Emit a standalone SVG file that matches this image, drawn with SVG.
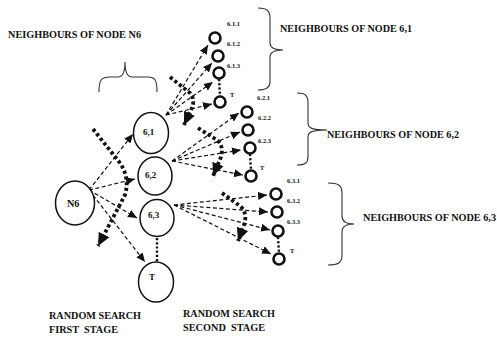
<svg xmlns="http://www.w3.org/2000/svg" width="497" height="337" viewBox="0 0 497 337">
<style>
text{font-family:"Liberation Serif","Times New Roman","DejaVu Serif",serif;font-weight:bold;fill:#111}
.big{font-size:10.2px}
.nl{font-size:9px}
.sl{font-size:6.5px}
.bn{fill:#fff;stroke:#111;stroke-width:1.5}
.sn{fill:#fff;stroke:#111;stroke-width:2.6}
.da{fill:none;stroke:#111;stroke-width:1.2;stroke-dasharray:4 2.5;marker-end:url(#ah)}
.th{fill:none;stroke:#111;stroke-width:3.8;stroke-dasharray:3.2 2.6;marker-end:url(#bh)}
.vd{fill:none;stroke:#111;stroke-width:2.4;stroke-dasharray:2.2 2}
.br{fill:none;stroke:#333;stroke-width:1.1}
</style>
<defs>
<marker id="ah" markerUnits="userSpaceOnUse" markerWidth="10" markerHeight="10" viewBox="0 0 10 10" refX="9" refY="5" orient="auto"><path d="M0,1 L9,5 L0,9 Z" fill="#111"/></marker>
<marker id="bh" markerUnits="userSpaceOnUse" markerWidth="15" markerHeight="15" viewBox="0 0 15 15" refX="13" refY="7.5" orient="auto"><path d="M0,1.5 L13,7.5 L0,13.5 Z" fill="#111"/></marker>
</defs>
<rect width="497" height="337" fill="#fff"/>

<g id="connectors">
<path class="da" d="M89,190 L133,134"/>
<path class="da" d="M89,190 L135,179"/>
<path class="da" d="M89,190 L137,218"/>
<path class="da" d="M89,190 L145,262"/>
<path class="da" d="M166,115 L208,45"/>
<path class="da" d="M166,115 L212,63"/>
<path class="da" d="M166,115 L213,82"/>
<path class="da" d="M166,115 L212,104"/>
<path class="da" d="M172,161 L239,113"/>
<path class="da" d="M172,161 L240,132"/>
<path class="da" d="M172,161 L241,150"/>
<path class="da" d="M172,161 L243,175"/>
<path class="da" d="M174,205 L267,195"/>
<path class="da" d="M174,205 L268,212"/>
<path class="da" d="M174,205 L270,230"/>
<path class="da" d="M174,205 L271,254"/>
<path class="vd" d="M157,238 L157,262"/>
<path class="vd" d="M219,79 L220,96"/>
<path class="vd" d="M250,154 L251,170"/>
<path class="vd" d="M278,237 L279,253"/>
<path class="th" d="M93,129 L120,163 Q130,178 125,195 L98,246"/>
<path class="th" d="M170,77 L190,93 Q196,100 191,110 L184,125"/>
<path class="th" d="M198,128 L217,140 Q224,146 221,157 L213,176"/>
<path class="th" d="M222,193 L240,206 Q248,213 244,225 L238,241"/>
</g>

<g id="N6"><ellipse class="bn" cx="75" cy="203" rx="19.5" ry="22"/><text class="big" x="67" y="207">N6</text></g>
<g id="n61"><ellipse class="bn" cx="151" cy="133" rx="17.5" ry="20.5"/><text class="nl" x="143" y="135">6,1</text></g>
<g id="n62"><ellipse class="bn" cx="155" cy="176" rx="17" ry="19"/><text class="nl" x="145" y="178">6,2</text></g>
<g id="n63"><ellipse class="bn" cx="157" cy="218" rx="17" ry="18.5"/><text class="nl" x="148" y="218">6,3</text></g>
<g id="nT"><ellipse class="bn" cx="156" cy="282" rx="17.5" ry="20"/><text class="nl" x="149" y="280">T</text></g>

<g id="n611"><circle class="sn" cx="215" cy="38" r="5.5"/><text class="sl" x="227" y="26">6.1.1</text></g>
<g id="n612"><circle class="sn" cx="218" cy="56" r="5.5"/><text class="sl" x="227" y="46">6.1.2</text></g>
<g id="n613"><circle class="sn" cx="219" cy="73" r="5.5"/><text class="sl" x="227" y="68">6.1.3</text></g>
<g id="n61T"><circle class="sn" cx="220" cy="102" r="5.5"/><text class="sl" x="230" y="97">T</text></g>
<g id="n621"><circle class="sn" cx="247" cy="112" r="5.5"/><text class="sl" x="257" y="100">6.2.1</text></g>
<g id="n622"><circle class="sn" cx="248" cy="130" r="5.5"/><text class="sl" x="258" y="120">6.2.2</text></g>
<g id="n623"><circle class="sn" cx="250" cy="148" r="5.5"/><text class="sl" x="258" y="143">6.2.3</text></g>
<g id="n62T"><circle class="sn" cx="251" cy="176" r="5.5"/><text class="sl" x="260" y="170">T</text></g>
<g id="n631"><circle class="sn" cx="276" cy="194" r="5.5"/><text class="sl" x="287" y="183">6.3.1</text></g>
<g id="n632"><circle class="sn" cx="277" cy="212" r="5.5"/><text class="sl" x="287" y="203">6.3.2</text></g>
<g id="n633"><circle class="sn" cx="278" cy="231" r="5.5"/><text class="sl" x="287" y="224">6.3.3</text></g>
<g id="n63T"><circle class="sn" cx="279" cy="259" r="5.5"/><text class="sl" x="290" y="253">T</text></g>

<g id="annotations">
<path class="br" d="M99,92 C99,80 101,77 110,77 L118,77 C123,77 125,72 125,62 C125,72 127,77 132,77 L148,77 C155,77 157,80 157,92"/>
<path class="br" d="M258,8 C266,8 270,10 270,18 L270,43 C270,48 274,50 283,50 C274,50 270,52 270,57 L270,82 C270,88 266,90 258,90"/>
<path class="br" d="M297,93 C305,93 308,95 308,103 L308,123 C308,128 312,130 327,130 C312,130 308,132 308,137 L308,157 C308,163 305,165 297,165"/>
<path class="br" d="M328,183 C338,183 342,185 342,193 L342,216 C342,221 345,224 354,224 C345,224 342,227 342,232 L342,255 C342,263 338,265 328,265"/>
<text class="big" x="8" y="38" textLength="133" lengthAdjust="spacingAndGlyphs">NEIGHBOURS OF NODE N6</text>
<text class="big" x="280" y="32" textLength="132" lengthAdjust="spacingAndGlyphs">NEIGHBOURS OF NODE 6,1</text>
<text class="big" x="327" y="138" textLength="132" lengthAdjust="spacingAndGlyphs">NEIGHBOURS OF NODE 6,2</text>
<text class="big" x="363" y="221" textLength="133" lengthAdjust="spacingAndGlyphs">NEIGHBOURS OF NODE 6,3</text>
<text class="big" x="49" y="319" textLength="92" lengthAdjust="spacingAndGlyphs">RANDOM SEARCH</text>
<text class="big" x="49" y="333" textLength="69" lengthAdjust="spacingAndGlyphs" xml:space="preserve">FIRST  STAGE</text>
<text class="big" x="183" y="317" textLength="92" lengthAdjust="spacingAndGlyphs">RANDOM SEARCH</text>
<text class="big" x="183" y="331" textLength="82" lengthAdjust="spacingAndGlyphs" xml:space="preserve">SECOND  STAGE</text>
</g>
</svg>
